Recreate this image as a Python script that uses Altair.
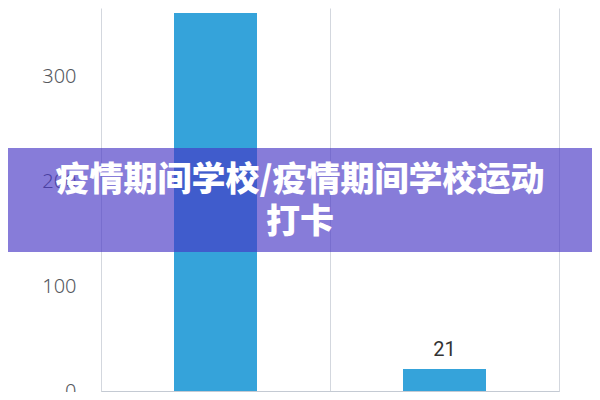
import altair as alt
import pandas as pd

categories = ["疫情期间学校", "疫情期间学校运动打卡"]
values = [360, 21]
y_ticks = [0, 100, 200, 300]
banner_lines = ["疫情期间学校/疫情期间学校运动", "打卡"]

df = pd.DataFrame({"cat": categories, "val": values})

W, H = 458, 383

x = alt.X("cat:N", sort=categories, title=None,
          scale=alt.Scale(paddingInner=0, paddingOuter=0),
          axis=alt.Axis(grid=True, tickBand="extent", gridColor="#d3d7de",
                        domainColor="#c4cad3", tickColor="#c4cad3", labelAngle=0,
                        labelFontSize=18, labelColor="#6e7079", labelFont="Noto Sans CJK SC"))
y = alt.Y("val:Q", title=None,
          scale=alt.Scale(domain=[0, 364.8], nice=False, zero=True),
          axis=alt.Axis(values=y_ticks, grid=False, domain=False, ticks=False,
                        labelPadding=25, labelFontSize=20, labelColor="#55585e",
                        labelFont="Noto Sans", labelFontWeight=300))

bars = alt.Chart(df).mark_bar(size=83, color="#35a3da").encode(x=x, y=y)

labels = alt.Chart(df).mark_text(baseline="bottom", dy=-9, fontSize=20,
                                 font="Roboto", color="#333333").encode(
    x=alt.X("cat:N", sort=categories), y="val:Q", text="val:Q")

banner_df = pd.DataFrame({"t": [banner_lines]})

banner = alt.Chart(banner_df).mark_rect(fill="#4735c5", fillOpacity=0.65, strokeWidth=0).encode(
    x=alt.value(-101), x2=alt.value(499), y=alt.value(140), y2=alt.value(244))

banner_text = alt.Chart(banner_df).mark_text(
    font="Noto Sans CJK SC", fontSize=34, fontWeight=900, color="white",
    align="center", baseline="middle", lineHeight=42).encode(
    x=alt.value(199), y=alt.value(173), text="t")

chart = alt.layer(bars, labels, banner, banner_text).properties(
    width=W, height=H,
    autosize=alt.AutoSizeParams(type="none"),
    padding={"left": 93, "top": 0, "right": 33, "bottom": 1},
).configure_view(stroke=None)

chart.save("out.html", embed_options={"renderer": "svg", "actions": False})
